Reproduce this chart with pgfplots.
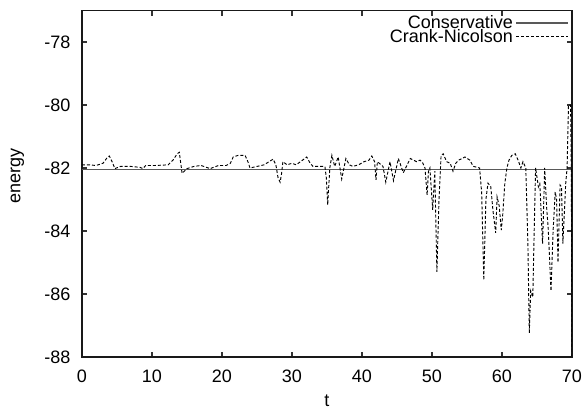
\documentclass[border=0pt]{standalone}
\usepackage{fontspec}
\setmainfont{Liberation Sans}
\usepackage{pgfplots}
\pgfplotsset{compat=1.18}
% gnuplot-like key sample: a long line after the text
\pgfplotsset{longlegend/.style={legend image code/.code={\draw[##1] (3pt,0pt) -- (42pt,0pt);}}}

\begin{document}
\begin{tikzpicture}
% bounding box matched to the 583x409 reference (1 px = 0.75 pt)
\useasboundingbox (-61.5pt,-39pt) rectangle (375.75pt,267.75pt);
\begin{axis}[
    at={(0,0)}, anchor=south west,
    scale only axis,
    width=367.5pt, height=259.875pt,
    xmin=0, xmax=70,
    ymin=-88, ymax=-77,
    xtick={0,10,...,70},
    ytick={-88,-86,...,-78},
    tick align=inside,
    major tick length=4pt,
    axis line style={line width=1pt, black!90},
    every tick/.style={black!80, line width=0.8pt},
    font=\fontsize{13.5}{16}\selectfont,
    /pgf/number format/assume math mode=true,
    every tick label/.append style={inner sep=0pt},
    yticklabel style={anchor=east, xshift=-8.5pt},
    xticklabel style={anchor=north, yshift=-9.5pt},
    xlabel={t},
    xlabel style={at={(axis description cs:0.5,0)}, anchor=base, yshift=-37pt},
    ylabel={energy},
    ylabel style={at={(axis description cs:-0.1317,0.522)}, anchor=center, rotate=0},
    legend plot pos=right,
    legend cell align=right,
    legend style={draw=none, fill=none, at={(1,1)}, anchor=north east,
        inner sep=0pt, nodes={inner ysep=1.5pt},
        xshift=-2pt, yshift=-2pt, row sep=-4pt,
        font=\fontsize{13.5}{16}\selectfont},
]

% Conservative scheme: energy stays constant
\addplot[color=black!65, line width=1.1pt, longlegend]
    coordinates {(0,-82.05) (70,-82.05)};
\addlegendentry{Conservative}

% Crank-Nicolson: energy drifts and spikes
\addplot[color=black, line width=0.7pt, dash pattern=on 2.25pt off 1.5pt, longlegend] coordinates {
(0,-81.9) (1,-81.9) (2,-81.92) (3,-81.85) (3.5,-81.7) (3.9,-81.62) (4.3,-81.8)
(4.7,-82.02) (5.5,-81.95) (7,-81.95) (8.3,-81.98) (8.7,-82.02) (9.1,-81.92)
(10.5,-81.92) (12.3,-81.9) (13,-81.75) (13.6,-81.55) (13.9,-81.5) (14.3,-82.17)
(15,-82.02) (16,-81.95) (17,-81.92) (18.3,-82.02) (19.5,-81.92) (20.6,-81.92)
(21.2,-81.85) (21.6,-81.65) (22.3,-81.6) (23.3,-81.6) (23.7,-81.8) (24,-82.0)
(25,-81.95) (26,-81.9) (27.3,-81.72) (27.7,-81.9) (28.0,-82.3) (28.3,-82.45)
(28.5,-82.2) (28.7,-81.8) (29.3,-81.9) (30,-81.85) (30.6,-81.9) (31.2,-81.8)
(31.7,-81.72) (32.1,-81.65) (32.6,-81.85) (33,-81.95) (34,-81.95) (34.7,-81.95)
(34.9,-82.3) (35.1,-83.17) (35.4,-82.0) (35.7,-81.6) (36.1,-81.95) (36.6,-81.65)
(37.1,-82.35) (37.7,-81.7) (38.2,-81.9) (38.7,-81.95) (39.5,-81.9) (40.3,-81.8)
(41.0,-81.75) (41.4,-81.62) (41.8,-81.8) (42.0,-82.38) (42.2,-81.8) (43.0,-81.95)
(43.4,-82.45) (44.0,-81.8) (44.5,-82.4) (45.2,-81.7) (45.9,-82.15) (46.9,-81.7)
(47.8,-81.8) (48.3,-81.75) (48.7,-81.85) (49.0,-82.0) (49.3,-82.86) (49.5,-82.1)
(49.7,-82.0) (50.1,-83.33) (50.4,-82.1) (50.7,-85.3) (51.0,-83.0) (51.3,-81.6)
(51.6,-81.55) (52.1,-81.8) (52.6,-81.85) (53.0,-82.1) (53.4,-81.85) (53.8,-81.75)
(54.3,-81.7) (54.7,-81.65) (55.4,-81.75) (55.9,-81.95) (56.5,-81.98) (56.8,-82.0)
(57.1,-82.8) (57.4,-85.56) (57.7,-83.0) (58.0,-82.48) (58.4,-82.6) (58.7,-83.33)
(59.1,-84.06) (59.3,-82.92) (59.6,-83.2) (59.9,-83.97) (60.1,-83.5) (60.4,-82.5)
(60.7,-82.0) (61.0,-81.75) (61.4,-81.6) (61.9,-81.55) (62.3,-81.75) (62.7,-82.0)
(63.0,-81.8) (63.4,-82.0) (63.7,-84.4) (63.9,-87.24) (64.1,-85.9) (64.4,-86.1)
(64.6,-84.0) (64.8,-82.0) (65.2,-82.6) (65.4,-82.5) (65.8,-84.4) (66.1,-82.0)
(66.4,-83.33) (66.6,-83.9) (67.0,-85.9) (67.3,-84.0) (67.6,-82.76) (67.8,-83.0)
(68.0,-85.0) (68.3,-82.54) (68.5,-82.6) (68.7,-84.4) (69.1,-82.5) (69.3,-82.0)
(69.5,-80.0) (69.8,-80.0) (69.9,-82.0) (70.0,-88.0)
};
\addlegendentry{Crank-Nicolson}

\end{axis}
\end{tikzpicture}
\end{document}
